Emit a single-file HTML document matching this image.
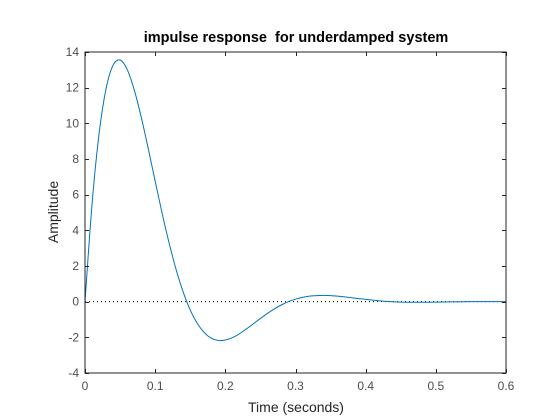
<!DOCTYPE html>
<html><head><meta charset="utf-8"><style>
body{margin:0;background:#fff;}
svg{display:block;font-family:"Liberation Sans",Arial,sans-serif;}
</style></head><body>
<svg id="chart" width="560" height="420">
<rect width="560" height="420" fill="#fff"/>
<text x="296" y="42" text-anchor="middle" font-size="14.5" font-weight="bold" fill="#000">impulse response&#160; for underdamped system</text>
<g id="axes"></g>
<text x="296" y="412" text-anchor="middle" font-size="14" fill="#262626">Time (seconds)</text>
<text transform="translate(58,212) rotate(-90)" text-anchor="middle" font-size="14" fill="#262626">Amplitude</text>
</svg>
<script>
const xTicks=[0,0.1,0.2,0.3,0.4,0.5,0.6];
const yTicks=[-4,-2,0,2,4,6,8,10,12,14];
const times=[0,0.01,0.02,0.03,0.04,0.05,0.06,0.07,0.08,0.09,0.10,0.11,0.12,0.13,0.14,0.15,0.16,0.17,0.18,0.19,0.20,0.21,0.22,0.23,0.24,0.25,0.26,0.27,0.28,0.29,0.30,0.31,0.32,0.33,0.34,0.35,0.36,0.37,0.38,0.39,0.40,0.41,0.42,0.43,0.44,0.45,0.46,0.47,0.48,0.49,0.50,0.51,0.52,0.53,0.54,0.55,0.56,0.57,0.58,0.59,0.60];
const amplitude=[0,5.46,9.40,11.94,13.26,13.55,13.03,11.90,10.37,8.61,6.76,4.94,3.27,1.78,0.53,-0.47,-1.22,-1.74,-2.05,-2.18,-2.15,-2.02,-1.80,-1.53,-1.24,-0.94,-0.66,-0.40,-0.18,0.00,0.14,0.24,0.31,0.34,0.35,0.34,0.31,0.27,0.22,0.17,0.13,0.085,0.046,0.014,-0.01,-0.025,-0.033,-0.036,-0.035,-0.032,-0.027,-0.021,-0.015,-0.009,-0.004,0,0.002,0.003,0.004,0.004,0.003];
const L=85,R=506,T=52,B=373,xmin=0,xmax=0.6,ymin=-4,ymax=14;
const sx=v=>L+(v-xmin)/(xmax-xmin)*(R-L);
const sy=v=>B-(v-ymin)/(ymax-ymin)*(B-T);
const NS='http://www.w3.org/2000/svg';
const g=document.getElementById('axes');
function mk(tag,at){const e=document.createElementNS(NS,tag);for(const k in at)e.setAttribute(k,at[k]);g.appendChild(e);return e;}
const bg=mk('rect',{x:L,y:T,width:R-L,height:B-T,fill:'#fff'});


const zl=mk('line',{x1:L,x2:R,y1:sy(0),y2:sy(0),stroke:'#000','stroke-width':1,'stroke-dasharray':'1,3'});


let d='';
for(let i=0;i<times.length;i++){
  const x=sx(times[i]),y=sy(amplitude[i]);
  if(i===0){d+='M'+x+','+y;continue;}
  const p0=i>1?i-2:i-1,p1=i-1,p2=i,p3=i<times.length-1?i+1:i;
  const X=j=>sx(times[j]),Y=j=>sy(amplitude[j]);
  const c1x=X(p1)+(X(p2)-X(p0))/6,c1y=Y(p1)+(Y(p2)-Y(p0))/6;
  const c2x=X(p2)-(X(p3)-X(p1))/6,c2y=Y(p2)-(Y(p3)-Y(p1))/6;
  d+=' C'+c1x+','+c1y+' '+c2x+','+c2y+' '+x+','+y;
}
const line=mk('path',{d:d,fill:'none',stroke:'#0072BD','stroke-width':1});


const box=mk('rect',{x:L,y:T,width:R-L,height:B-T,fill:'none',stroke:'#262626','stroke-width':1,'shape-rendering':'crispEdges'});


xTicks.forEach(v=>{
  const x=Math.round(sx(v))+0.5;
  mk('line',{x1:x,x2:x,y1:B,y2:B-4,stroke:'#262626'});
  mk('line',{x1:x,x2:x,y1:T,y2:T+4,stroke:'#262626'});
  const t=mk('text',{x:sx(v),y:B+17,'text-anchor':'middle','font-size':12,fill:'#4d4d4d'});
  t.textContent=String(v);
  
  
});
yTicks.forEach(v=>{
  const y=Math.round(sy(v))+0.5;
  mk('line',{x1:L,x2:L+4,y1:y,y2:y,stroke:'#262626'});
  mk('line',{x1:R,x2:R-4,y1:y,y2:y,stroke:'#262626'});
  const t=mk('text',{x:L-6,y:sy(v)+4,'text-anchor':'end','font-size':12,fill:'#4d4d4d'});
  t.textContent=String(v);
  
  
});
</script>
</body></html>
